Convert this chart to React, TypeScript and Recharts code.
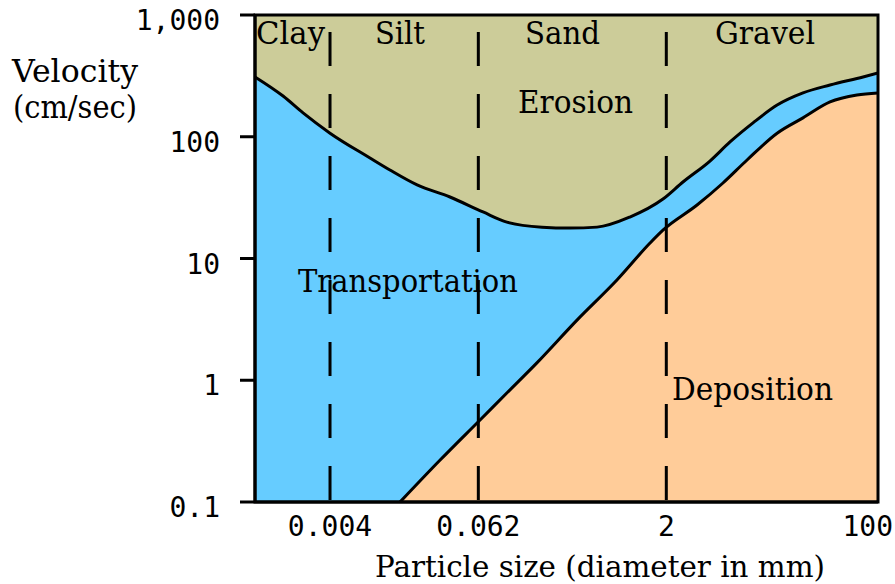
import React from 'react';
import {
  ComposedChart,
  Area,
  XAxis,
  YAxis,
  CartesianGrid,
  ReferenceLine,
  ReferenceArea,
} from 'recharts';

// Erosion curve (upper boundary of Transportation)
const erosionSize = [0.001, 0.00168, 0.00243, 0.004, 0.00837, 0.0121, 0.02, 0.0367, 0.0676, 0.105, 0.201, 0.337, 0.556, 1.02, 1.88, 2.72, 4.48, 6.49, 9.93, 15.5, 25, 41.2, 75.9, 100];
const erosionVelocity = [310, 216, 157, 107, 66.9, 53.3, 40.2, 32, 24.1, 19.9, 18.1, 17.8, 18.1, 21.9, 30.8, 42.5, 63.2, 90.6, 130, 182, 229, 266, 310, 334];

// Deposition curve (upper boundary of Deposition)
const depositionSize = [0.0146, 0.0306, 0.064, 0.105, 0.183, 0.384, 0.803, 1.48, 1.88, 3.53, 5.7, 8.89, 15.5, 25, 41.2, 67.8, 100];
const depositionVelocity = [0.1, 0.221, 0.472, 0.786, 1.39, 3.12, 6.66, 13.4, 17.1, 27.5, 41.7, 64.4, 107, 143, 193, 220, 229];

const boundarySizes = [0.004, 0.062, 2];
const xTicks = [0.004, 0.062, 2, 100];
const yTicks = [0.1, 1, 10, 100, 1000];
const sizeClasses = ['Clay', 'Silt', 'Sand', 'Gravel'];
const zones = ['Erosion', 'Transportation', 'Deposition'];

const erosionData = erosionSize.map((d, i) => ({ d, v: erosionVelocity[i] }));
const depositionData = depositionSize.map((d, i) => ({ d, v: depositionVelocity[i] }));

const KHAKI = '#CCCC99';
const BLUE = '#66CCFF';
const ORANGE = '#FFCC99';

const TICK_FONT = 'DejaVu Sans Mono';
const LABEL_FONT = 'DejaVu Serif';

const XTick = (props: any) => {
  const { x, y, payload } = props;
  const last = payload.value === xTicks[xTicks.length - 1];
  return (
    <text
      x={last ? x + 15 : x}
      y={y}
      dy={21}
      textAnchor={last ? 'end' : 'middle'}
      fontFamily={TICK_FONT}
      fontSize={28}
      fill="#000"
    >
      {String(payload.value)}
    </text>
  );
};

const YTick = (props: any) => {
  const { x, y, payload } = props;
  return (
    <text x={x} y={y} dy={15} textAnchor="end" fontFamily={TICK_FONT} fontSize={28} fill="#000">
      {Number(payload.value).toLocaleString('en-US')}
    </text>
  );
};

const T = (p: { x: number; y: number; w: number; size?: number; children: string }) => (
  <text
    x={p.x}
    y={p.y}
    textLength={p.w}
    lengthAdjust="spacingAndGlyphs"
    fontFamily={LABEL_FONT}
    fontSize={p.size ?? 32}
    fill="#000"
  >
    {p.children}
  </text>
);

export default function App() {
  return (
    <div style={{ position: 'absolute', left: 0, top: 0, width: 895, height: 584, background: '#fff' }}>
      <ComposedChart
        width={895}
        height={584}
        margin={{ top: 15, right: 17, bottom: 22, left: 0 }}
      >
        <CartesianGrid fill={KHAKI} fillOpacity={1} horizontal={false} vertical={false} />
        <XAxis
          dataKey="d"
          type="number"
          scale="log"
          domain={[0.001, 100]}
          ticks={xTicks}
          allowDataOverflow
          height={60}
          tickLine={false}
          tickSize={0}
          tickMargin={13}
          axisLine={{ stroke: '#000', strokeWidth: 3 }}
          tick={<XTick />}
          interval={0}
        />
        <YAxis
          type="number"
          scale="log"
          domain={[0.1, 1000]}
          ticks={yTicks}
          allowDataOverflow
          width={255}
          tickSize={15}
          tickMargin={20}
          tickLine={{ stroke: '#000', strokeWidth: 3 }}
          axisLine={{ stroke: '#000', strokeWidth: 3 }}
          tick={<YTick />}
          interval={0}
        />
        <Area
          data={erosionData}
          dataKey="v"
          type="monotone"
          baseValue={0.1}
          fill={BLUE}
          fillOpacity={1}
          stroke="#000"
          strokeWidth={3}
          isAnimationActive={false}
          dot={false}
          activeDot={false}
        />
        <Area
          data={depositionData}
          dataKey="v"
          type="monotone"
          baseValue={0.1}
          fill={ORANGE}
          fillOpacity={1}
          stroke="#000"
          strokeWidth={3}
          isAnimationActive={false}
          dot={false}
          activeDot={false}
        />
        {boundarySizes.map((b) => (
          <ReferenceLine
            key={b}
            segment={[{ x: b, y: 0.1 }, { x: b, y: 1000 }]}
            stroke="#000"
            strokeWidth={3}
            strokeDasharray="34 28"
            strokeDashoffset={60}
          />
        ))}
        <ReferenceArea x1={0.001} x2={100} y1={0.1} y2={1000} fill="none" fillOpacity={0} stroke="#000" strokeWidth={3} />
      </ComposedChart>
      <svg
        width={895}
        height={584}
        style={{ position: 'absolute', left: 0, top: 0, pointerEvents: 'none' }}
      >
        <T x={256} y={44} w={69}>{sizeClasses[0]}</T>
        <T x={375} y={44} w={50}>{sizeClasses[1]}</T>
        <T x={525} y={44} w={75}>{sizeClasses[2]}</T>
        <T x={715} y={44} w={100}>{sizeClasses[3]}</T>
        <T x={518} y={113} w={115}>{zones[0]}</T>
        <T x={298} y={292} w={220}>{zones[1]}</T>
        <T x={672} y={400} w={161}>{zones[2]}</T>
        <T x={12} y={82} w={126}>Velocity</T>
        <T x={13} y={118} w={124}>(cm/sec)</T>
        <T x={375} y={577} w={450} size={30}>Particle size (diameter in mm)</T>
      </svg>
    </div>
  );
}
